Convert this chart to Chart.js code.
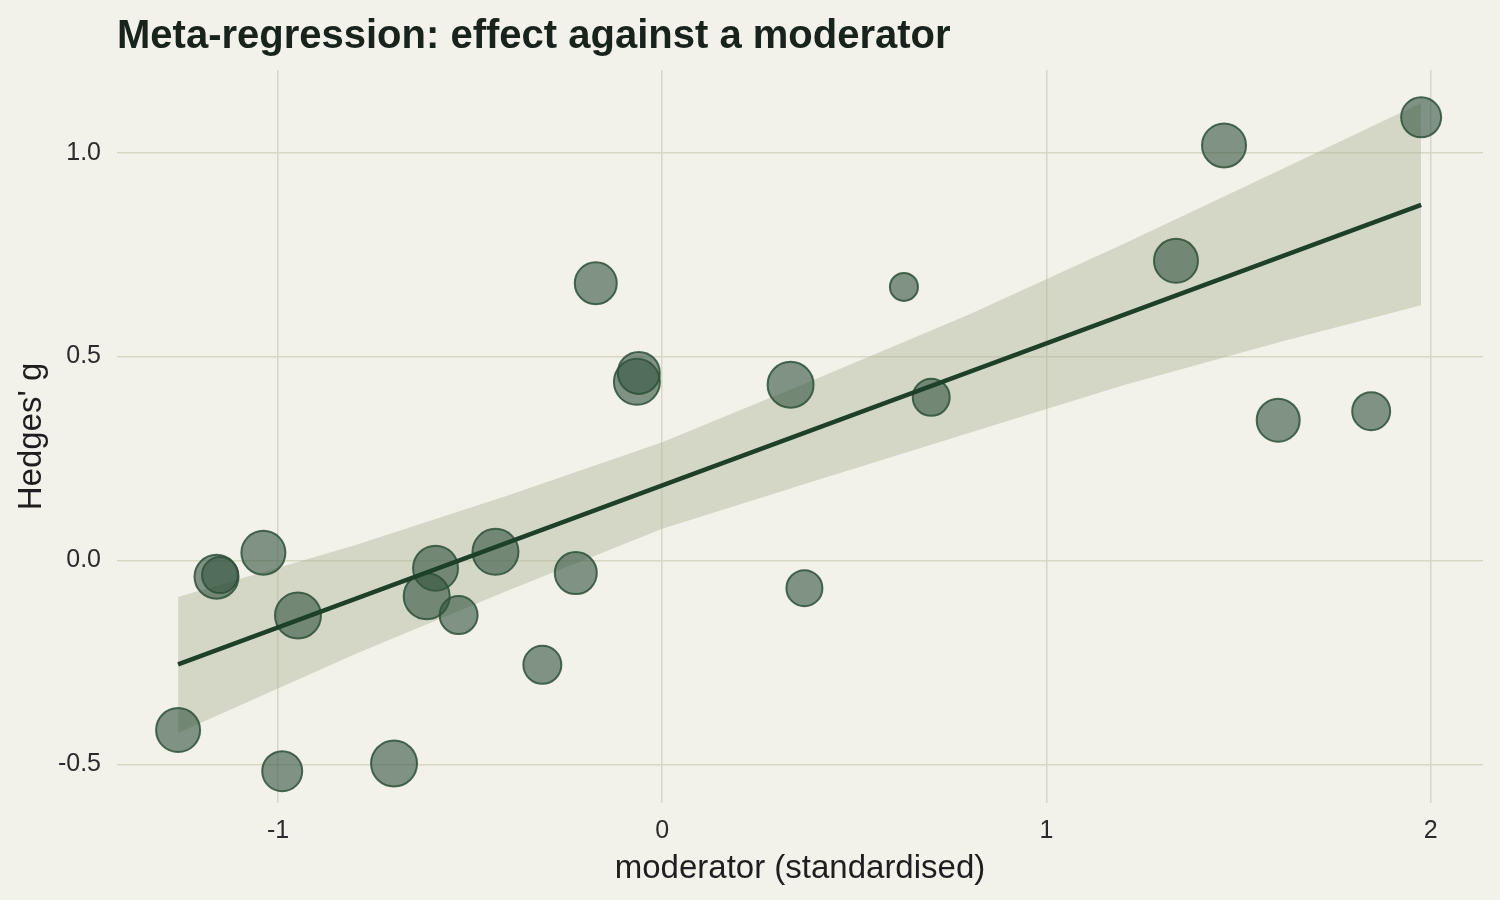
<!DOCTYPE html>
<html>
<head>
<meta charset="utf-8">
<title>Meta-regression</title>
<script src="https://cdn.jsdelivr.net/npm/chart.js@4.4.0/dist/chart.umd.min.js"></script>
<style>
    html, body { margin: 0; padding: 0; background: #f2f1ea; }
    #wrap { width: 1500px; height: 900px; }
</style>
</head>
<body>
<div id="wrap"><canvas id="chart" width="1500" height="900"></canvas></div>
<script>
// Data
var studyX = [-1.260, -0.989, -0.698, -1.160, -1.151, -1.038, -0.948, -0.590, -0.613, -0.530, -0.434, -0.225, -0.312,
    -0.173, -0.066, -0.061, 0.334, 0.629, 0.700, 0.370, 1.337, 1.462, 1.975, 1.603, 1.845];
var studyY = [-0.416, -0.517, -0.498, -0.040, -0.036, 0.019, -0.135, -0.019, -0.088, -0.134, 0.021, -0.031, -0.256,
    0.680, 0.438, 0.460, 0.431, 0.671, 0.400, -0.068, 0.735, 1.018, 1.087, 0.344, 0.366];
// study weight (bubble size)
var studyWeight = [23, 21, 24, 23, 19, 23, 24, 23.5, 24, 20, 24, 22, 20,
    22, 24, 22, 24, 15, 19.5, 19, 23, 23, 21, 22.5, 20];

// fitted line and confidence band
var fitX = [-1.26, 1.975];
var fitY = [-0.255, 0.872];
var bandX = [-1.26, -0.8, -0.4, 0, 0.4, 0.8, 1.2, 1.6, 1.975];
var bandUpper = [-0.09, 0.037, 0.16, 0.29, 0.445, 0.604, 0.776, 0.954, 1.122];
var bandLower = [-0.423, -0.23, -0.073, 0.078, 0.196, 0.313, 0.43, 0.534, 0.626];

// ticks
var xTicks = [-1, 0, 1, 2];
var xTickLabels = ['-1', '0', '1', '2'];
var yTicks = [-0.5, 0, 0.5, 1.0];
var yTickLabels = ['-0.5', '0.0', '0.5', '1.0'];

var titleText = 'Meta-regression: effect against a moderator';
var xTitle = 'moderator (standardised)';
var yTitle = 'Hedges\' g';

// Build
var FONT = '"Liberation Sans", Arial, Helvetica, sans-serif';

function pairs(xs, ys) {
    return xs.map(function (x, i) { return { x: x, y: ys[i] }; });
}

var bubbles = studyX.map(function (x, i) {
    return { x: x, y: studyY[i], r: studyWeight[i] - 1 };
});

// title drawn at the plot's left edge
var titlePlugin = {
    id: 'leftTitle',
    afterDraw: function (chart) {
        var ctx = chart.ctx;
        ctx.save();
        ctx.font = 'bold 40px ' + FONT;
        ctx.fillStyle = '#17231b';
        ctx.textAlign = 'left';
        ctx.textBaseline = 'alphabetic';
        ctx.fillText(titleText, chart.chartArea.left, 48);
        ctx.restore();
    }
};

var chart = new Chart(document.getElementById('chart').getContext('2d'), {
    type: 'bubble',
    data: {
        datasets: [
            {
                type: 'line',
                label: 'fit',
                data: pairs(fitX, fitY),
                borderColor: '#1e4028',
                borderWidth: 4.5,
                pointRadius: 0,
                fill: false,
                order: 0
            },
            {
                label: 'studies',
                data: bubbles,
                backgroundColor: 'rgba(52,84,62,0.6)',
                borderColor: 'rgba(45,80,55,0.85)',
                borderWidth: 2,
                order: 1
            },
            {
                type: 'line',
                label: 'upper',
                data: pairs(bandX, bandUpper),
                borderWidth: 0,
                pointRadius: 0,
                backgroundColor: 'rgba(167,178,144,0.4)',
                fill: '+1',
                order: 2
            },
            {
                type: 'line',
                label: 'lower',
                data: pairs(bandX, bandLower),
                borderWidth: 0,
                pointRadius: 0,
                fill: false,
                order: 3
            }
        ]
    },
    options: {
        responsive: false,
        devicePixelRatio: 1,
        animation: false,
        layout: {
            autoPadding: false,
            padding: { top: 70, right: 17, left: 0, bottom: 0 }
        },
        plugins: {
            legend: { display: false },
            tooltip: { enabled: false },
            title: { display: false }
        },
        scales: {
            x: {
                type: 'linear',
                min: -1.419,
                max: 2.136,
                border: { display: false },
                grid: { color: '#d6d7c5', lineWidth: 1.5, drawTicks: false },
                afterFit: function (scale) { scale.height = 97; },
                afterBuildTicks: function (scale) {
                    scale.ticks = xTicks.map(function (v) { return { value: v }; });
                },
                ticks: {
                    padding: 13,
                    color: '#2b2b2b',
                    font: { family: FONT, size: 25 },
                    callback: function (v) { return xTickLabels[xTicks.indexOf(v)]; }
                },
                title: {
                    display: true,
                    text: xTitle,
                    color: '#1e1e1e',
                    font: { family: FONT, size: 33, lineHeight: 1 },
                    padding: { top: 0, bottom: 15 }
                }
            },
            y: {
                type: 'linear',
                min: -0.595,
                max: 1.203,
                border: { display: false },
                grid: { color: '#d6d7c5', lineWidth: 1.5, drawTicks: false },
                afterFit: function (scale) { scale.width = 117; },
                afterBuildTicks: function (scale) {
                    scale.ticks = yTicks.map(function (v) { return { value: v }; });
                },
                ticks: {
                    padding: 16,
                    color: '#2b2b2b',
                    font: { family: FONT, size: 25 },
                    callback: function (v) { return yTickLabels[yTicks.indexOf(v)]; }
                },
                title: {
                    display: true,
                    text: yTitle,
                    color: '#1e1e1e',
                    font: { family: FONT, size: 33, lineHeight: 1 },
                    padding: { top: 15, bottom: 0 }
                }
            }
        }
    },
    plugins: [titlePlugin]
});
</script>
</body>
</html>
